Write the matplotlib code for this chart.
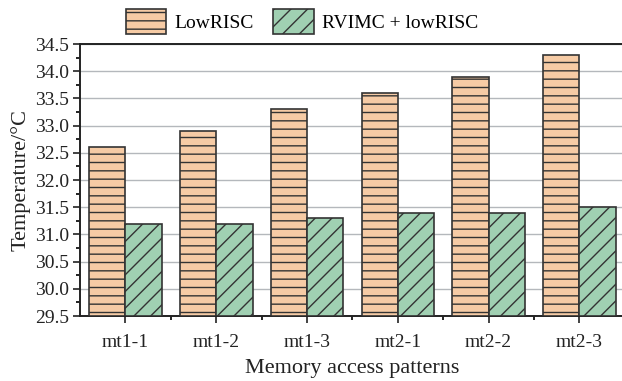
import matplotlib
matplotlib.use("Agg")
import matplotlib.pyplot as plt
import numpy as np
from matplotlib.ticker import MultipleLocator, FixedLocator

patterns = ['mt1-1', 'mt1-2', 'mt1-3', 'mt2-1', 'mt2-2', 'mt2-3']
lowrisc = [32.6, 32.9, 33.3, 33.6, 33.9, 34.3]
rvimc = [31.2, 31.2, 31.3, 31.4, 31.4, 31.5]

plt.rcParams['font.family'] = ['Liberation Serif', 'DejaVu Serif']
plt.rcParams['hatch.color'] = '#2a2a2a'
plt.rcParams['hatch.linewidth'] = 1.0

fig = plt.figure(figsize=(6.22, 3.81), dpi=100)
ax = fig.add_axes([0.1286, 0.1706, 0.876, 0.7139])

x = np.arange(len(patterns))
w = 0.4
b1 = ax.bar(x - w / 2, np.array(lowrisc) - 29.5, w, bottom=29.5, color='#F6CBA5',
            edgecolor='#333333', linewidth=1.2, hatch='--', label='LowRISC', zorder=3)
b2 = ax.bar(x + w / 2, np.array(rvimc) - 29.5, w, bottom=29.5, color='#A0D0B2',
            edgecolor='#333333', linewidth=1.2, hatch='//', label='RVIMC + lowRISC', zorder=3)

ax.set_xlim(-0.5, 5.5)
ax.set_ylim(29.5, 34.5)
ax.yaxis.set_major_locator(MultipleLocator(0.5))
ax.yaxis.set_minor_locator(MultipleLocator(0.25))
ax.set_xticks(x)
ax.set_xticklabels(patterns)
ax.xaxis.set_minor_locator(FixedLocator(x[:-1] + 0.5))
ax.yaxis.set_major_formatter(matplotlib.ticker.FormatStrFormatter('%.1f'))

ax.tick_params(axis='both', which='major', direction='out', length=5, width=1.2,
               labelsize=14, colors='#222222')
ax.tick_params(axis='both', which='minor', direction='out', length=3, width=1.2)
ax.tick_params(axis='x', which='major', pad=8)
ax.tick_params(axis='y', which='major', pad=3)

ax.grid(axis='y', which='major', color='#b4b8bc', linewidth=1.0, zorder=0)
ax.set_axisbelow(True)
for s in ax.spines.values():
    s.set_linewidth(1.4)
    s.set_color('#222222')

ax.set_ylabel('Temperature/°C', fontsize=16, color='#222222', labelpad=3)
ax.set_xlabel('Memory access patterns', fontsize=16, color='#222222', labelpad=6)

fig.legend(handles=[b1, b2], loc='center', bbox_to_anchor=(0.485, 0.943), ncol=2,
           frameon=False, fontsize=14, handlelength=2.1, handleheight=1.6,
           columnspacing=1.0, handletextpad=0.4)

fig.savefig('out.png', dpi=100)
